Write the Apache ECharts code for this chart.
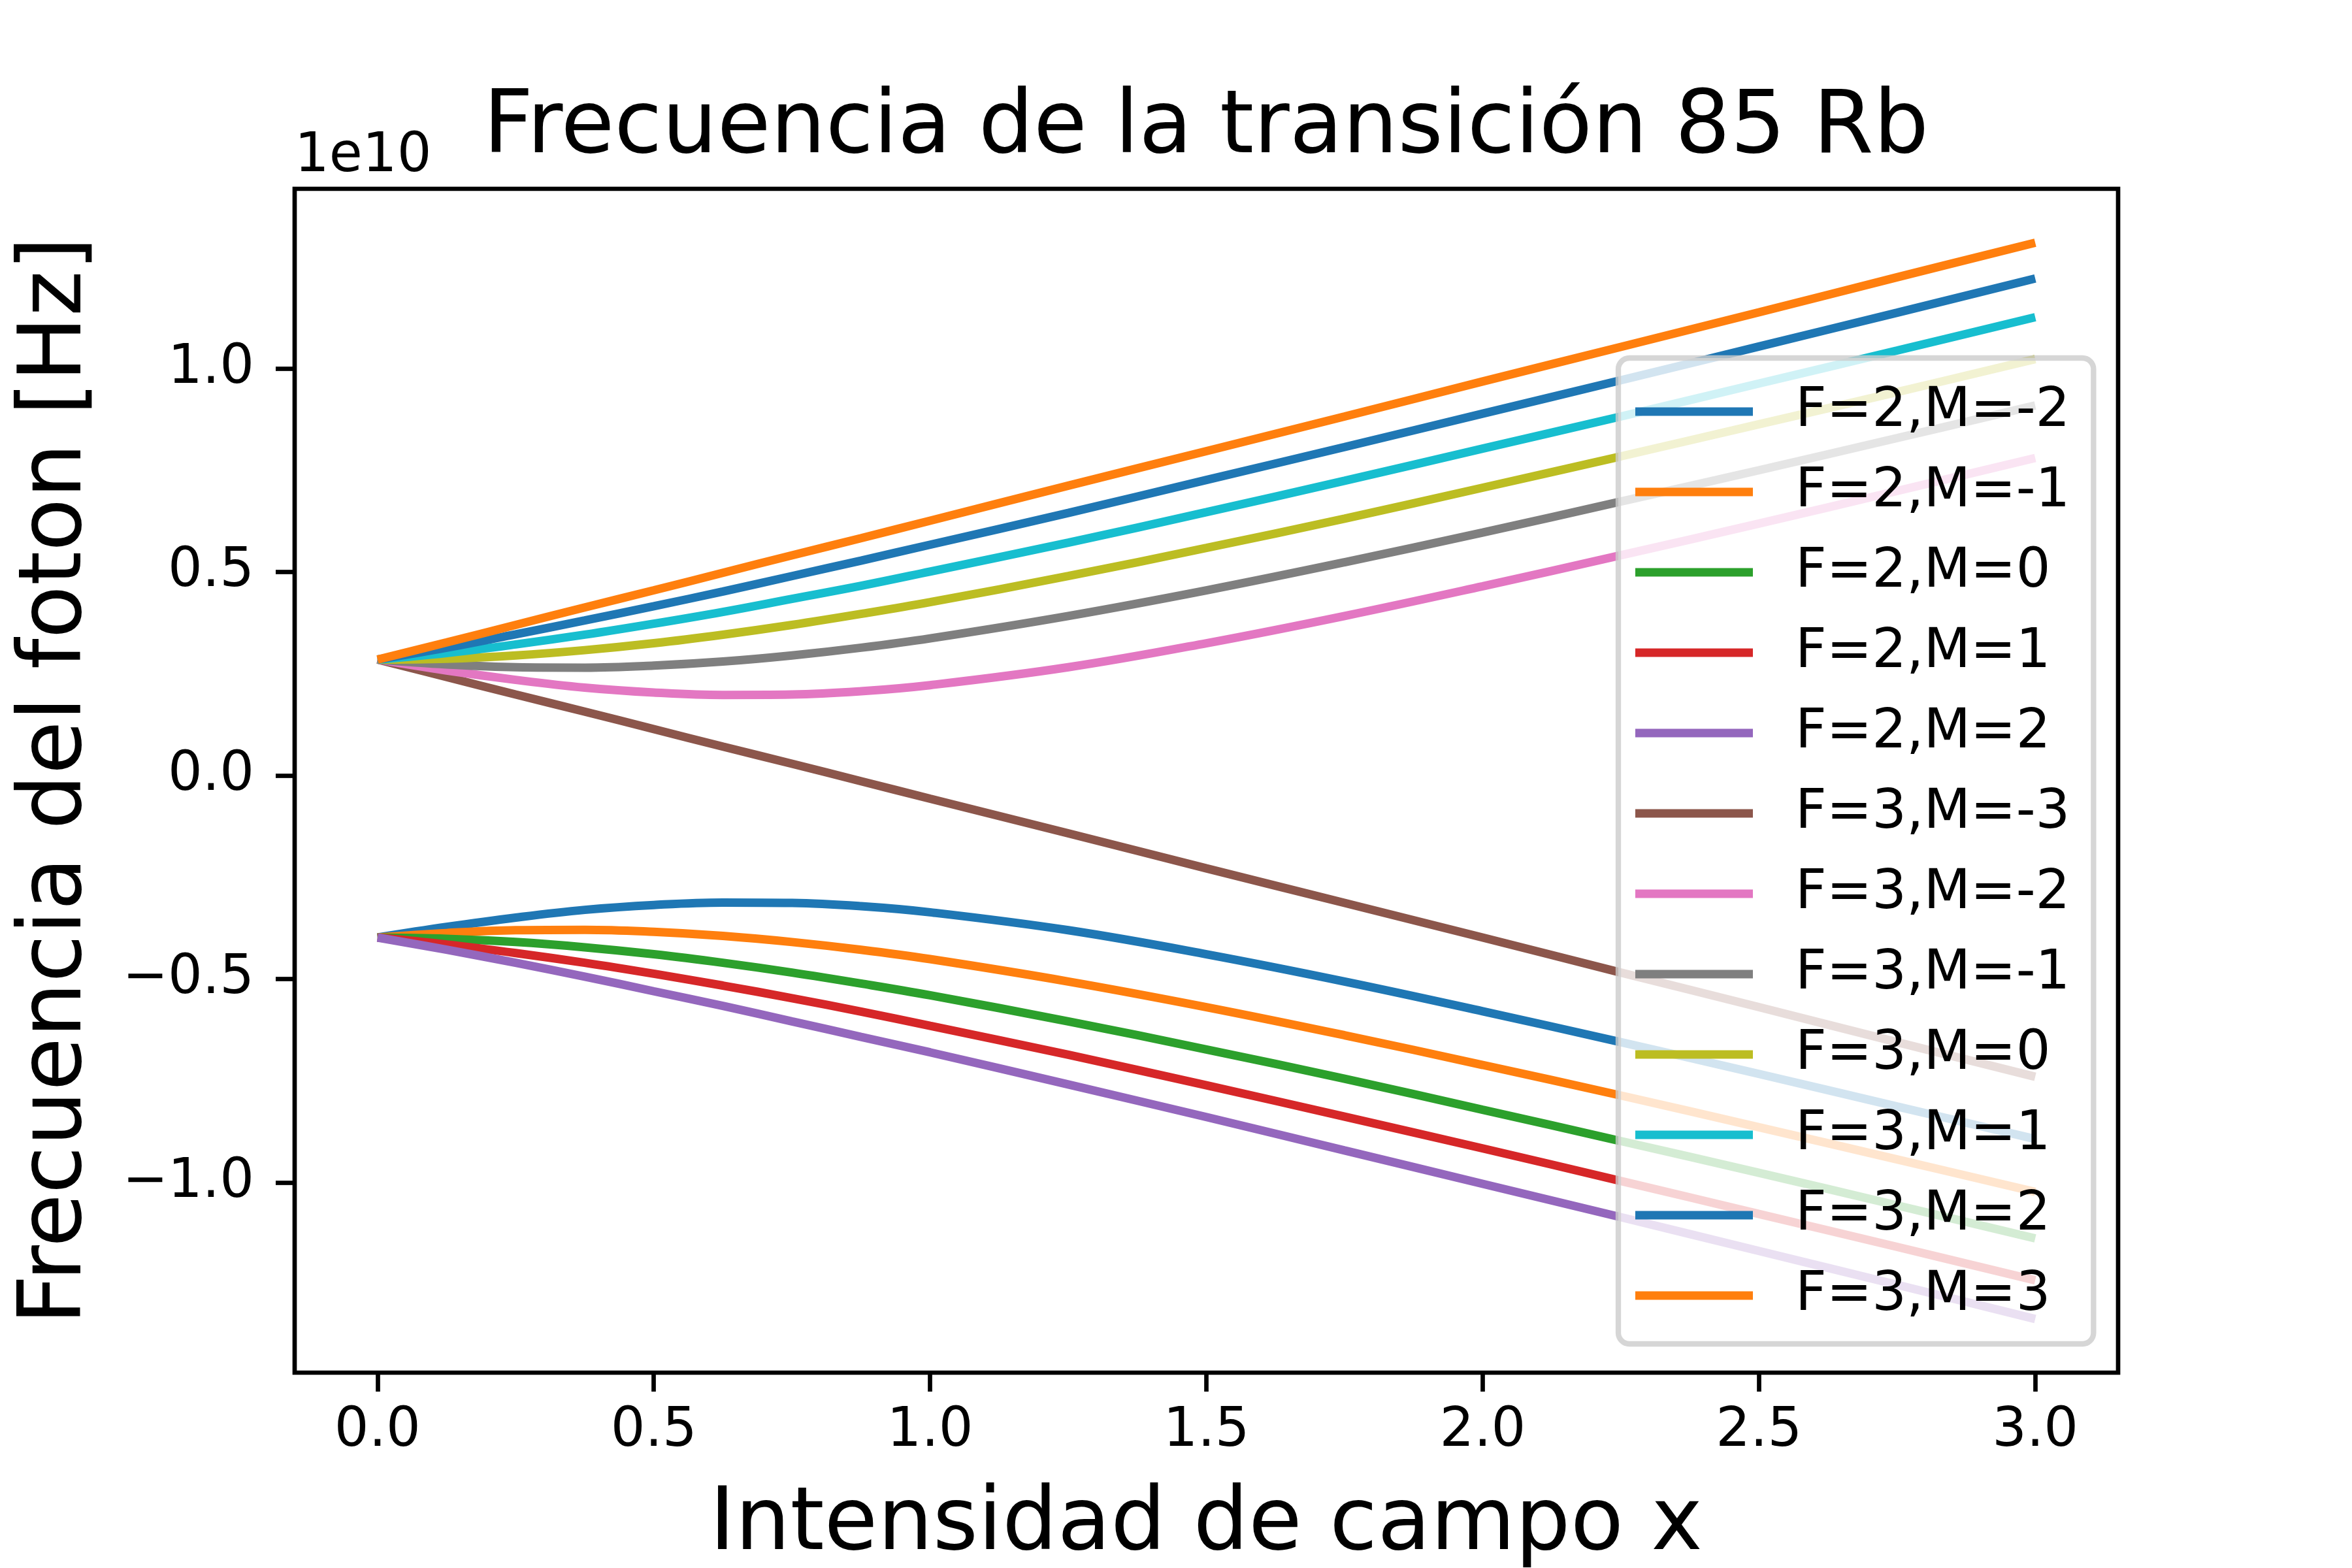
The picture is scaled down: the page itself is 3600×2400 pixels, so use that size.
<!DOCTYPE html>
<html>
<head>
<meta charset="utf-8">
<script src="https://cdn.jsdelivr.net/npm/echarts@6/dist/echarts.min.js"></script>
<style>
  html, body { margin: 0; padding: 0; background: #fff; }
  #chart { width: 3600px; height: 2400px; }
</style>
</head>
<body>
<div id="chart"></div>
<script>
// campo x
var campoX = [0, 0.125, 0.25, 0.375, 0.5, 0.625, 0.75, 0.875, 1, 1.25, 1.5, 1.75, 2, 2.25, 2.5, 2.75, 3];

// frecuencias en unidades de 1e10 Hz
var f2m_2 = [-0.398, -0.372, -0.349, -0.330, -0.318, -0.312, -0.313, -0.321, -0.336, -0.380, -0.439, -0.506, -0.579, -0.655, -0.733, -0.813, -0.893];
var f2m_1 = [-0.398, -0.387, -0.380, -0.379, -0.384, -0.394, -0.409, -0.428, -0.451, -0.506, -0.569, -0.638, -0.711, -0.786, -0.864, -0.943, -1.023];
var f2m0  = [-0.398, -0.401, -0.409, -0.422, -0.439, -0.460, -0.484, -0.511, -0.540, -0.604, -0.673, -0.745, -0.821, -0.898, -0.976, -1.056, -1.137];
var f2m1  = [-0.398, -0.415, -0.436, -0.460, -0.487, -0.516, -0.547, -0.580, -0.615, -0.686, -0.761, -0.838, -0.916, -0.996, -1.077, -1.158, -1.240];
var f2m2  = [-0.398, -0.428, -0.460, -0.494, -0.530, -0.566, -0.604, -0.642, -0.680, -0.759, -0.839, -0.921, -1.003, -1.085, -1.168, -1.251, -1.335];
var f3m_3 = [0.285, 0.242, 0.199, 0.157, 0.114, 0.071, 0.029, -0.014, -0.057, -0.142, -0.228, -0.313, -0.398, -0.484, -0.569, -0.655, -0.740];
var f3m_2 = [0.285, 0.258, 0.235, 0.216, 0.204, 0.198, 0.199, 0.207, 0.222, 0.266, 0.325, 0.392, 0.465, 0.541, 0.619, 0.699, 0.780];
var f3m_1 = [0.285, 0.273, 0.266, 0.265, 0.270, 0.280, 0.295, 0.314, 0.337, 0.392, 0.455, 0.524, 0.597, 0.673, 0.750, 0.829, 0.909];
var f3m0  = [0.285, 0.287, 0.295, 0.308, 0.325, 0.346, 0.370, 0.397, 0.426, 0.490, 0.559, 0.631, 0.707, 0.784, 0.863, 0.942, 1.023];
var f3m1  = [0.285, 0.301, 0.322, 0.346, 0.373, 0.402, 0.434, 0.466, 0.501, 0.572, 0.647, 0.724, 0.803, 0.882, 0.963, 1.044, 1.126];
var f3m2  = [0.285, 0.314, 0.347, 0.381, 0.416, 0.452, 0.490, 0.528, 0.567, 0.645, 0.726, 0.807, 0.889, 0.971, 1.054, 1.137, 1.221];
var f3m3  = [0.285, 0.327, 0.370, 0.413, 0.455, 0.498, 0.541, 0.583, 0.626, 0.712, 0.797, 0.882, 0.968, 1.053, 1.138, 1.224, 1.309];

var nombres = ['F=2,M=-2', 'F=2,M=-1', 'F=2,M=0', 'F=2,M=1', 'F=2,M=2',
               'F=3,M=-3', 'F=3,M=-2', 'F=3,M=-1', 'F=3,M=0', 'F=3,M=1', 'F=3,M=2', 'F=3,M=3'];
var valores = [f2m_2, f2m_1, f2m0, f2m1, f2m2, f3m_3, f3m_2, f3m_1, f3m0, f3m1, f3m2, f3m3];

var xTicks = [0, 0.5, 1, 1.5, 2, 2.5, 3];
var yTicks = [-1, -0.5, 0, 0.5, 1];

var colores = ['#1f77b4', '#ff7f0e', '#2ca02c', '#d62728', '#9467bd', '#8c564b',
               '#e377c2', '#7f7f7f', '#bcbd22', '#17becf', '#1f77b4', '#ff7f0e'];

var FONT = 'DejaVu Sans';

function fmt(v) {
    return v.toFixed(1).replace('-', '\u2212');
}

var series = nombres.map(function (n, i) {
    return {
        name: n,
        type: 'line',
        smooth: 0.4,
        symbol: 'none',
        lineStyle: { width: 13, color: colores[i] },
        itemStyle: { color: colores[i] },
        data: campoX.map(function (x, j) { return [x, valores[i][j]]; })
    };
});

var chart = echarts.init(document.getElementById('chart'), null, { renderer: 'canvas', devicePixelRatio: 1 });

var option = {
    animation: false,
    backgroundColor: '#ffffff',
    color: colores,
    grid: {
        left: 451, right: 358, top: 289, bottom: 299,
        show: true, borderColor: '#000', borderWidth: 6.7, backgroundColor: 'transparent'
    },
    xAxis: {
        type: 'value',
        min: -0.15, max: 3.15,
        splitLine: { show: false },
        axisLine: { show: false, onZero: false },
        axisTick: { show: true, inside: false, length: 29, customValues: xTicks,
                    lineStyle: { color: '#000', width: 6.7 } },
        axisLabel: { customValues: xTicks, margin: 49, formatter: fmt,
                     fontFamily: FONT, fontSize: 83, color: '#000' }
    },
    yAxis: {
        type: 'value',
        min: -1.4669, max: 1.4413,
        splitLine: { show: false },
        axisLine: { show: false, onZero: false },
        axisTick: { show: true, inside: false, length: 29, customValues: yTicks,
                    lineStyle: { color: '#000', width: 6.7 } },
        axisLabel: { customValues: yTicks, margin: 62, formatter: fmt,
                     fontFamily: FONT, fontSize: 83, color: '#000' }
    },
    legend: {
        orient: 'vertical',
        left: 2477, top: 548,
        padding: [32, 36, 24, 26],
        icon: 'rect',
        itemWidth: 180, itemHeight: 13, itemGap: 23,
        selectedMode: false,
        backgroundColor: 'rgba(255,255,255,0.8)',
        borderColor: 'rgba(204,204,204,0.8)',
        borderWidth: 8.3,
        borderRadius: 17,
        textStyle: { fontFamily: FONT, fontSize: 83, lineHeight: 100, color: '#000',
                     padding: [0, 0, 0, 60] },
        data: nombres
    },
    graphic: [
        { type: 'text', x: 1846, y: 198,
          style: { text: 'Frecuencia de la transición 85 Rb', font: '133px "DejaVu Sans"',
                   fill: '#000', align: 'center', verticalAlign: 'middle' } },
        { type: 'text', x: 451, y: 240,
          style: { text: '1e10', font: '83px "DejaVu Sans"', fill: '#000',
                   align: 'left', verticalAlign: 'middle' } },
        { type: 'text', x: 1846, y: 2336,
          style: { text: 'Intensidad de campo x', font: '133px "DejaVu Sans"', fill: '#000',
                   align: 'center', verticalAlign: 'middle' } },
        { type: 'text', x: 88, y: 1195, rotation: Math.PI / 2,
          style: { text: 'Frecuencia del foton [Hz]', font: '133px "DejaVu Sans"', fill: '#000',
                   align: 'center', verticalAlign: 'middle' } }
    ],
    series: series
};

chart.setOption(option);
</script>
</body>
</html>
